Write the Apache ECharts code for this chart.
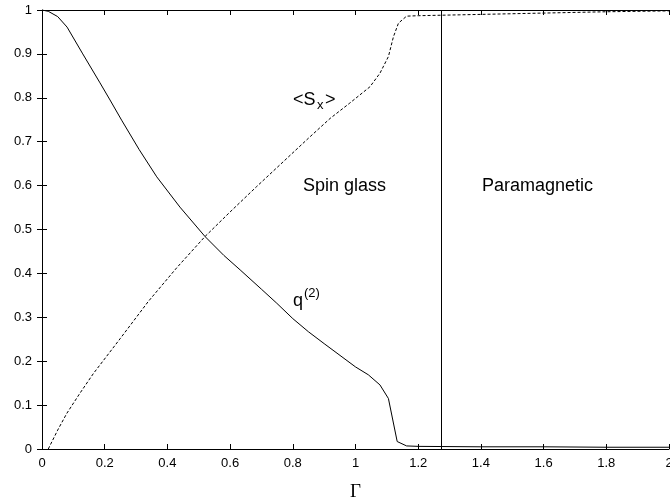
<!DOCTYPE html>
<html>
<head>
<meta charset="utf-8">
<script src="https://cdn.jsdelivr.net/npm/echarts@6/dist/echarts.min.js"></script>
<style>
  html, body { margin: 0; padding: 0; background: #fff; }
  #chart { width: 670px; height: 498px; }
</style>
</head>
<body>
<div id="chart"></div>
<script>
// q^(2) curve (solid)
const gammaQ = [0, 0.02, 0.05, 0.08, 0.13, 0.185, 0.217, 0.254, 0.31, 0.366, 0.44, 0.52, 0.58, 0.632, 0.7, 0.749, 0.8, 0.85, 0.9, 1.0, 1.041, 1.078, 1.105, 1.133, 1.163, 1.2, 1.4, 1.6, 1.8, 2.0]
const qValues = [1, 0.997, 0.985, 0.961, 0.9, 0.834, 0.795, 0.749, 0.682, 0.62, 0.551, 0.484, 0.441, 0.408, 0.364, 0.332, 0.297, 0.267, 0.24, 0.187, 0.169, 0.146, 0.115, 0.017, 0.007, 0.006, 0.005, 0.005, 0.004, 0.004]

// <S_x> curve (dashed)
const gammaS = [0.02, 0.05, 0.079, 0.12, 0.164, 0.25, 0.339, 0.43, 0.52, 0.6, 0.685, 0.76, 0.85, 0.919, 0.98, 1.046, 1.078, 1.105, 1.121, 1.137, 1.163, 1.2, 1.333, 1.6, 1.8, 2.0]
const sxValues = [0, 0.043, 0.081, 0.126, 0.172, 0.252, 0.336, 0.413, 0.484, 0.54, 0.598, 0.648, 0.708, 0.753, 0.787, 0.825, 0.856, 0.894, 0.939, 0.97, 0.986, 0.987, 0.989, 0.993, 0.996, 0.998]

// spin glass / paramagnetic boundary
const phaseBoundary = 1.273

const xTicks = { min: 0, max: 2, interval: 0.2 }
const yTicks = { min: 0, max: 1, interval: 0.1 }

const zip = (xs, ys) => xs.map((x, i) => [x, ys[i]])

const chart = echarts.init(document.getElementById('chart'))

const labelFont = 'Liberation Sans'
const axisCommon = {
  type: 'value',
  axisLine: { show: true, onZero: false, lineStyle: { color: '#000', width: 1 } },
  axisTick: { show: true, inside: true, length: 5, lineStyle: { color: '#000' } },
  splitLine: { show: false }
}

const option = {
  animation: false,
  backgroundColor: '#fff',
  grid: { left: 42, right: 1, top: 10, bottom: 49, containLabel: false, outerBoundsMode: 'none' },
  xAxis: [
    {
      ...axisCommon, ...xTicks, position: 'bottom',
      axisLabel: { color: '#000', fontFamily: labelFont, fontSize: 13, margin: 8 },
      name: 'Γ', nameLocation: 'middle', nameGap: 34,
      nameTextStyle: { color: '#000', fontFamily: 'Liberation Serif', fontSize: 19 }
    },
    { ...axisCommon, ...xTicks, position: 'top', axisLabel: { show: false } }
  ],
  yAxis: [
    {
      ...axisCommon, ...yTicks, position: 'left',
      axisLabel: { color: '#000', fontFamily: labelFont, fontSize: 13, margin: 10 }
    },
    { ...axisCommon, ...yTicks, position: 'right', axisLine: { show: false }, axisLabel: { show: false } }
  ],
  series: [
    {
      name: 'q2', type: 'line', showSymbol: false,
      data: zip(gammaQ, qValues),
      lineStyle: { color: '#000', width: 1 },
      markLine: {
        silent: true, symbol: 'none', label: { show: false },
        lineStyle: { color: '#000', width: 1, type: 'solid' },
        data: [[{ coord: [phaseBoundary, 0] }, { coord: [phaseBoundary, 1] }]]
      }
    },
    {
      name: 'Sx', type: 'line', showSymbol: false,
      data: zip(gammaS, sxValues),
      lineStyle: { color: '#000', width: 1, type: [3, 2] }
    }
  ],
  graphic: [
    { type: 'text', x: 293, y: 100, style: { text: '<S', font: '18px Liberation Sans', fill: '#000', verticalAlign: 'middle' } },
    { type: 'text', x: 317, y: 105, style: { text: 'x', font: '13px Liberation Sans', fill: '#000', verticalAlign: 'middle' } },
    { type: 'text', x: 325, y: 100, style: { text: '>', font: '18px Liberation Sans', fill: '#000', verticalAlign: 'middle' } },
    { type: 'text', x: 293, y: 301, style: { text: 'q', font: '18px Liberation Sans', fill: '#000', verticalAlign: 'middle' } },
    { type: 'text', x: 304, y: 293, style: { text: '(2)', font: '13px Liberation Sans', fill: '#000', verticalAlign: 'middle' } },
    { type: 'text', x: 303, y: 186, style: { text: 'Spin glass', font: '18px Liberation Sans', fill: '#000', verticalAlign: 'middle' } },
    { type: 'text', x: 482, y: 186, style: { text: 'Paramagnetic', font: '18px Liberation Sans', fill: '#000', verticalAlign: 'middle' } }
  ]
}

chart.setOption(option)
</script>
</body>
</html>
